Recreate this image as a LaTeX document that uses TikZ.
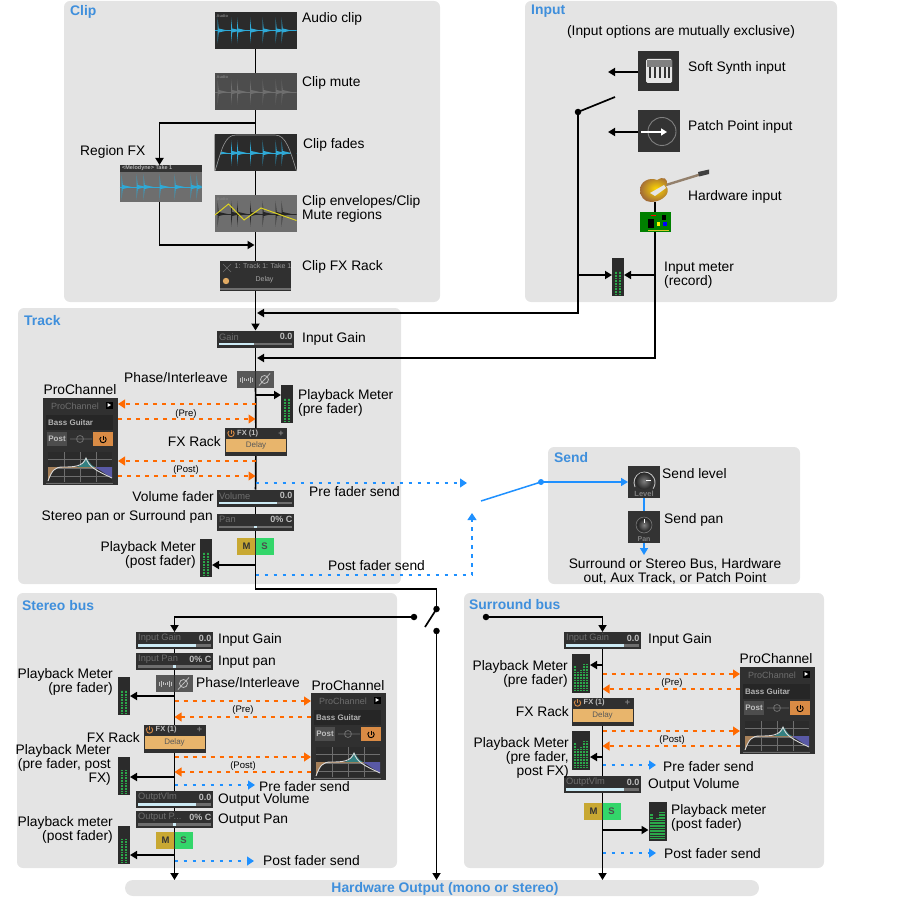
\documentclass[tikz,border=0pt]{standalone}
\usepackage{fontspec}
\setmainfont{Liberation Sans}
\usetikzlibrary{positioning,arrows.meta}

\definecolor{panelgray}{HTML}{E4E4E4}
\definecolor{titleblue}{HTML}{3F8FDC}
\definecolor{sendblue}{HTML}{1E90FF}
\definecolor{sendorange}{HTML}{FF6A00}
\definecolor{wavedark}{HTML}{2B2B2B}
\definecolor{waveblue}{HTML}{2FA9D6}
\definecolor{stripdark}{HTML}{303030}
\definecolor{stripfill}{HTML}{CDEBF5}
\definecolor{stripgrey}{HTML}{6E6E6E}
\definecolor{metergreen}{HTML}{2BA84A}
\definecolor{fxtan}{HTML}{E8B56C}
\definecolor{powerorange}{HTML}{D98B45}
\definecolor{muteyellow}{HTML}{C8A832}
\definecolor{solegreen}{HTML}{33D66A}

\tikzset{
  x=1pt, y=-1pt,
  panel/.style={fill=panelgray, rounded corners=6pt},
  paneltitle/.style={font=\fontsize{13.9}{14}\selectfont\bfseries, text=titleblue, anchor=west, inner sep=0, yshift=-1.5pt},
  lbl/.style={font=\fontsize{13.8}{14}\selectfont, anchor=west, align=left, inner sep=0, yshift=-2pt},
  lblr/.style={lbl, anchor=east, align=right},
  lblc/.style={lbl, anchor=center, align=center},
  note/.style={font=\fontsize{9.5}{10}\selectfont, inner sep=0, yshift=-2pt},
  tiny/.style={font=\fontsize{#1}{#1}\selectfont\bfseries, inner sep=0},
  thin text/.style={font=\fontsize{#1}{#1}\selectfont, inner sep=0},
  widget/.style={inner sep=0, outer sep=0, minimum width=#1},
  sig/.style={line width=1.7pt, black},
  sigarrow/.style={sig, -{Triangle[length=7pt,width=8pt]}},
  orangearrow/.style={line width=1.2pt, sendorange, dash pattern=on 4pt off 5pt, -{Triangle[length=7pt,width=9pt]}},
  bluearrow/.style={line width=1.2pt, sendblue, dash pattern=on 3.5pt off 5.5pt, -{Triangle[length=7pt,width=9pt]}},
  sendline/.style={line width=1.5pt, sendblue},
  dot/.style={circle, fill=black, inner sep=0, minimum size=6.5pt},
}

% spikes of a clip: left x, middle y, colour, list of places
\newcommand{\wavespikes}[4]{
  \begin{scope}[shift={(#1,#2)}]
    \clip (0,-14) rectangle (82,14);
    \draw[#3, line width=.6] (0,0) -- (82,0);
    \foreach \sx in {#4} {
      \fill[#3] (\sx,-13) -- (\sx+1.2,-2) -- (\sx+10,0) -- (\sx+1.2,2) -- (\sx,13) -- cycle;
    }
  \end{scope}
}

% clip picture: name, x, y, background, wave colour
\newcommand{\wavebox}[5]{
  \node[widget=82, minimum height=37, fill=#4] (#1) at (#2,#3) {};
  \wavespikes{#2-41}{#3}{#5}{3,16.5,22.5,35.5,48,61,67}
  \node[tiny=4, text=gray, anchor=west] (#1t) at (#2-39,#3-14.5) {Audio};
}

% fader strip: name, x, y, label, value, bar from, bar to
\newcommand{\stripbox}[7]{
  \node[widget=77, minimum height=17, fill=stripdark] (#1) at (#2,#3) {};
  \begin{scope}[shift={(#2-38.5,#3-8.5)}]
    \node[thin text=9.3, text=stripgrey, anchor=west] (#1l) at (2,6.3) {#4};
    \node[tiny=9, text=white!75!black, anchor=east] (#1v) at (75.5,6.3) {#5};
    \fill[stripgrey] (2,12) rectangle (75,14.5);
    \fill[stripfill] (#6,12) rectangle (#7,14.5);
  \end{scope}
}

% level meter: name, x, y
\newcommand{\meterbox}[3]{
  \node[widget=12, minimum height=38, fill=wavedark] (#1) at (#2,#3) {};
  \foreach \mx in {-2.3,2.3} {
    \draw[metergreen, line width=2.2pt, dash pattern=on 1pt off .6pt] (#2+\mx,#3+18) -- (#2+\mx,#3-6);
  }
}
\newcommand{\widemeterbox}[3]{
  \node[widget=18, minimum height=39, fill=wavedark] (#1) at (#2,#3) {};
  \foreach \mx/\mh in {-6/-8,-3/-2,0/-4,3/-10,6/-10} {
    \draw[metergreen, line width=2.2pt, dash pattern=on 1pt off .6pt] (#2+\mx,#3+17) -- (#2+\mx,#3+\mh);
  }
}

% phase and mute/solo buttons: name, x, y
\newcommand{\phasebox}[3]{
  \node[widget=37, minimum height=17, fill=stripgrey!80!black] (#1) at (#2,#3) {};
  \fill[wavedark] (#2-.8,#3-8.5) rectangle (#2+.8,#3+8.5);
  \foreach \px/\ph in {-15/2,-13/3,-11/1.5,-9/1,-7/1.5,-5/3,-3/2} {
    \draw[white!75!black, line width=.7] (#2+\px,#3-\ph) -- (#2+\px,#3+\ph);
  }
  \draw[white!75!black, line width=.8] (#2+9,#3) circle (4);
  \draw[white!75!black, line width=.8] (#2+3.5,#3+6) -- (#2+14.5,#3-6);
}
\newcommand{\msbox}[3]{
  \node[widget=37, minimum height=17, fill=muteyellow] (#1) at (#2,#3) {};
  \fill[solegreen] (#2,#3-8.5) rectangle (#2+18.5,#3+8.5);
  \fill[wavedark] (#2-.8,#3-8.5) rectangle (#2+.8,#3+8.5);
  \node[tiny=9.5, text=black!80] (#1m) at (#2-9,#3) {M};
  \node[tiny=9.5, text=black!70] (#1s) at (#2+9,#3) {S};
}

% power symbol: x, y, colour
\newcommand{\powersign}[3]{
  \draw[#3, line width=.9] (#1,#2) ++(-50:3.2) arc (-50:230:3.2);
  \draw[#3, line width=.9] (#1,#2-4) -- (#1,#2);
}

% fx rack: name, x, y
\newcommand{\fxbox}[3]{
  \node[widget=62, minimum height=28, fill=stripdark] (#1) at (#2,#3) {};
  \begin{scope}[shift={(#2-31,#3-14)}]
    \fill[fxtan] (1,11) rectangle (61,24);
    \powersign{6}{5.5}{powerorange}
    \node[tiny=7.5, text=white!75!black, anchor=west] (#1h) at (12,5.5) {FX (1)};
    \node[tiny=9, text=gray] (#1p) at (56,5.5) {+};
    \node[thin text=8, text=black!65] (#1d) at (31,17.5) {Delay};
  \end{scope}
}

% prochannel module: name, x, y
\newcommand{\prochbox}[3]{
  \node[widget=75, minimum height=87, fill=stripdark] (#1) at (#2,#3) {};
  \begin{scope}[shift={(#2-37.5,#3-43.5)}]
    \node[thin text=9, text=stripgrey] (#1t) at (32,8.5) {ProChannel};
    \fill[black] (62.5,3.5) rectangle (70,10.5);
    \fill[white] (64.5,5) -- (68,7) -- (64.5,9) -- cycle;
    \fill[black!85] (3,17) rectangle (70,32);
    \node[tiny=8, text=white!70!black, anchor=west] (#1b) at (5,24.5) {Bass Guitar};
    \fill[stripgrey!70!black] (4,34) rectangle (24,48);
    \node[tiny=8, text=white!75!black] (#1o) at (14,41) {Post};
    \draw[stripgrey, line width=.8] (27,41) -- (49,41) (37,41) circle (3.5);
    \fill[powerorange] (50,34) rectangle (70,48);
    \powersign{60}{41.5}{black}
    \fill[wavedark] (5,54) rectangle (69,84);
    \draw[stripgrey, line width=.4] (5,61) -- (69,61) (5,70) -- (69,70) (5,78) -- (69,78)
      (21,54) -- (21,84) (37,54) -- (37,84) (53,54) -- (53,84);
    \fill[brown!60!gray] (5,68.5) rectangle (69,70);
    \fill[brown!60!gray] (5,69) -- (20,69) .. controls (12,69) and (9,72) .. (5,83) -- cycle;
    \fill[teal!60!gray] (34,69) .. controls (40,68) and (41,60) .. (43,60) .. controls (45,60) and (47,68) .. (52,69) -- cycle;
    \fill[blue!30!gray] (52,69) -- (69,69) -- (69,80) -- cycle;
    \draw[white!85!black, line width=.9] (5,83) .. controls (9,72) and (12,69) .. (20,69)
      .. controls (30,69) and (40,69) .. (43,60) .. controls (46,69) and (52,72) .. (69,80);
    \draw[stripgrey] (3,85.5) -- (70,85.5);
  \end{scope}
}

\begin{document}
\begin{tikzpicture}

\useasboundingbox (0,0) rectangle (907,901);

% panels
\fill[panel] (64,1) rectangle (440,302);
\fill[panel] (525,1) rectangle (837,302);
\fill[panel] (18,308) rectangle (401,584);
\fill[panel] (548,447) rectangle (800,584);
\fill[panel] (17,593) rectangle (397,868);
\fill[panel] (464,593) rectangle (824,868);
\fill[panel, rounded corners=8pt] (125,880) rectangle (759,896);
\node[paneltitle] (tClip) at (70,10) {Clip};
\node[paneltitle] (tInput) at (531,10) {Input};
\node[paneltitle] (tTrack) at (24,319) {Track};
\node[paneltitle] (tSend) at (554,456) {Send};
\node[paneltitle] (tStereo) at (22,604) {Stereo bus};
\node[paneltitle] (tSurround) at (469,603) {Surround bus};
\node[paneltitle, anchor=center, yshift=1pt] (tHardware) at (445,888) {Hardware Output (mono or stereo)};

% clip
\wavebox{audio}{255.5}{30.5}{wavedark}{waveblue}
\wavebox{mute}{255.5}{92}{stripgrey!70!black}{stripgrey}
\wavebox{fades}{255.5}{153}{wavedark}{waveblue}
\fill[wavedark] (214.5,134.5) -- (236,134.5) .. controls (225,135) and (222,148) .. (215,171) -- (214.5,171) -- cycle;
\fill[wavedark] (296.5,134.5) -- (275,134.5) .. controls (286,135) and (290,150) .. (296.5,171) -- cycle;
\draw[white!60!black, line width=.6] (215,171) .. controls (222,148) and (225,135) .. (236,135)
  -- (275,135) .. controls (286,135) and (290,150) .. (296.5,171);
\wavebox{envs}{255.5}{214}{stripgrey}{black!85}
\draw[yellow!85!black, line width=1] (215,215) -- (228.5,204) -- (244,220) -- (261,208) -- (296.5,220.5);
\node[widget=82, minimum height=37, fill=stripgrey] (region) at (160.5,183.5) {};
\wavespikes{119.5}{187}{waveblue}{2,17,24,40,55,71,77}
\fill[black!80] (119.5,165) rectangle (201.5,172);
\node[tiny=5.5, text=white!70!black, anchor=west] (regionh) at (122,168.5) {<Melodyne> Take 1};
\node[widget=71, minimum height=30, fill=stripdark] (clipfx) at (255.5,276) {};
\draw[stripgrey, line width=.7] (223,264) -- (231,272) (231,264) -- (223,272);
\fill[fxtan!80!brown] (226,281) circle (3.2);
\node[tiny=7, text=white!60!black, font=\fontsize{7}{7}\selectfont] (clipfxt) at (263,266) {1: Track 1: Take 1};
\node[thin text=7, text=white!65!black] (clipfxd) at (264.5,280) {Delay};
\fill[stripgrey] (220,288) rectangle (291,289.5);
\node[lbl] (lAudio) at (302,17) {Audio clip};
\node[lbl] (lMute) at (302,81) {Clip mute};
\node[lbl] (lFades) at (303,143) {Clip fades};
\node[lbl] (lEnvs) at (302,207) {Clip envelopes/Clip\\Mute regions};
\node[lbl] (lClipFx) at (302,265) {Clip FX Rack};
\node[lbl] (lRegion) at (80,150) {Region FX};
\coordinate (regOut) at (255.5,123);
\coordinate (regTurn) at (159.5,123);
\coordinate (regIn) at (159.5,245);
\coordinate (regBack) at (254.5,245);
\draw[sig] (audio) -- (mute);
\draw[sig] (mute) -- (fades);
\draw[sig] (fades) -- (envs);
\draw[sig] (envs) -- (clipfx);
\draw[sigarrow] (regOut) -- (regTurn) -- (regTurn |- region.north);
\draw[sigarrow] (region.south -| regIn) -- (regIn) -- (regBack);

% input
\node[lblc] (lExcl) at (681,30) {(Input options are mutually exclusive)};
\node[widget=41, minimum height=40, fill=stripdark] (synth) at (658.5,71) {};
\fill[white!90!black, rounded corners=1.5pt] (646,59) rectangle (672,83);
\fill[gray] (646.5,60) rectangle (671.5,67);
\foreach \kx in {650,655,660,665,669} {\fill[black!80] (\kx-.9,67) rectangle (\kx+.9,78);}
\node[widget=42, minimum height=42, fill=black!80] (patch) at (659,131) {};
\draw[gray, line width=.9] (662,131.5) circle (14);
\draw[white, line width=2.5pt, -{Triangle[length=6pt,width=7pt]}] (641,132) -- (667,132);
\node[lbl] (lSynth) at (688,66) {Soft Synth input};
\node[lbl] (lPatch) at (688,125) {Patch Point input};
\node[lbl] (lHw) at (688,195) {Hardware input};
\node[lbl] (lInMeter) at (664,273) {Input meter\\(record)};
\coordinate (synthTip) at (608,72);
\coordinate (patchTip) at (608,132);
\draw[sigarrow] (synth.west |- synthTip) -- (synthTip);
\draw[sigarrow] (patch.west |- patchTip) -- (patchTip);
\node[dot] (inDot) at (578,112) {};
\coordinate (inBlade) at (615,97);
\draw[sig] (inDot.center) -- (inBlade);
% guitar and audio card
\coordinate (gtrOut) at (655,202);
\draw[sig] (gtrOut) -- (655,213);
\draw[line width=2.4pt, gray!70!brown] (666,185) -- (700,174.5);
\fill[black!75] (698,172) -- (709,169.5) -- (709,174) -- (699,176.5) -- cycle;
\shade[inner color=yellow!70!orange, outer color=brown!85!black]
  (640,190) .. controls (640,181) and (650,177) .. (657,180) .. controls (662,176) and (670,178) .. (666,186)
  .. controls (672,193) and (662,202) .. (651,202) .. controls (644,202) and (640,196) .. (640,190) -- cycle;
\fill[white!90!black] (650,193) -- (664,185) -- (666,188) -- (655,196) -- cycle;
\node[widget=31, minimum height=20, fill=green!50!black] (card) at (655.5,222.5) {};
\fill[black] (648,219) rectangle (654,228);
\fill[black] (662,215) rectangle (666,220);
\fill[blue] (663,222) rectangle (667,226);
\fill[yellow] (657,222) rectangle (660,226);
\fill[red] (651,215) rectangle (656,216.5);
\draw[yellow!80!black, line width=1.3pt] (648,230.5) -- (669,230.5);
\meterbox{inmeter}{618}{277}
\coordinate (hwMeter) at (655,275);
\coordinate (swMeter) at (578,275);
\coordinate (hwTurn) at (655,358);
\coordinate (swTurn) at (578,313);
\coordinate (trkGainIn) at (257,313);
\coordinate (trkPostGain) at (257,358);
\draw[sigarrow] (swMeter) -- (swMeter -| inmeter.west);
\draw[sigarrow] (hwMeter) -- (hwMeter -| inmeter.east);
\draw[sigarrow] (inDot.center) -- (swTurn) -- (trkGainIn);
\draw[sigarrow] (card.south -| hwTurn) -- (hwTurn) -- (trkPostGain);

% track
\stripbox{gain}{255.5}{339}{Gain}{0.0}{2}{37}
\phasebox{phase}{255.5}{379.5}
\meterbox{trkpre}{287}{404}
\prochbox{pch}{80.5}{441.5}
\fxbox{fx}{256}{442}
\stripbox{vol}{255.5}{498}{Volume}{0.0}{2}{60}
\stripbox{pan}{255.5}{522}{Pan}{0\% C}{37}{40}
\msbox{ms}{255.5}{546.5}
\meterbox{trkpost}{206}{558}
\node[lbl] (lGain) at (302,337) {Input Gain};
\node[lblr] (lPhase) at (228,376) {Phase/Interleave};
\node[lbl] (lTrkPre) at (298,401) {Playback Meter\\(pre fader)};
\node[lblc] (lPch) at (80,388) {ProChannel};
\node[note] (lPre) at (186,412) {(Pre)};
\node[lblr] (lFx) at (221,440) {FX Rack};
\node[note] (lPost) at (186,468) {(Post)};
\node[lblr] (lVol) at (214,495) {Volume fader};
\node[lblr] (lPan) at (213,515) {Stereo pan or Surround pan};
\node[lblr] (lTrkPost) at (196,553) {Playback Meter\\(post fader)};
\node[lbl] (lPreSend) at (309,490) {Pre fader send};
\node[lbl] (lPostSend) at (328,564) {Post fader send};
\coordinate (trkMeter) at (255.5,395);
\coordinate (trkA) at (255.5,404);
\coordinate (trkB) at (255.5,419);
\coordinate (trkC) at (255.5,461);
\coordinate (trkD) at (255.5,476);
\coordinate (trkSend) at (255.5,483);
\coordinate (trkMeterPost) at (255.5,565);
\coordinate (trkSendPost) at (255.5,575);
\coordinate (trkOut) at (255.5,589);
\draw[sigarrow] (clipfx) -- (gain);
\draw[sig] (gain) -- (phase);
\draw[sig] (phase) -- (fx);
\draw[sig] (fx) -- (vol);
\draw[sig] (vol) -- (pan);
\draw[sig] (pan) -- (ms);
\draw[sigarrow] (trkMeter) -- (trkMeter -| trkpre.west);
\draw[sigarrow] (trkMeterPost) -- (trkMeterPost -| trkpost.east);
\draw[orangearrow] (trkA) -- (trkA -| pch.east);
\draw[orangearrow] (trkB -| pch.east) -- (trkB);
\draw[orangearrow] (trkC) -- (trkC -| pch.east);
\draw[orangearrow] (trkD -| pch.east) -- (trkD);
\coordinate (sendPreTip) at (467,483);
\coordinate (sendPostTurn) at (472,575);
\coordinate (sendPostTip) at (472,513);
\draw[bluearrow] (trkSend) -- (sendPreTip);
\draw[bluearrow] (trkSendPost) -- (sendPostTurn) -- (sendPostTip);

% send
\node[widget=32, minimum height=32, fill=black!80] (level) at (644,482) {};
\draw[white!75!black, line width=.9] (635,487) arc (155:395:10.5);
\shade[inner color=gray, outer color=black!85] (644,481) circle (8.5);
\draw[white, line width=1] (646,480) -- (651,480);
\node[tiny=7.5, text=gray] (levelt) at (644,494) {Level};
\node[widget=32, minimum height=32, fill=black!80] (spanbox) at (644,527) {};
\shade[inner color=gray, outer color=black!85] (644,525) circle (6.5);
\draw[white, line width=1] (644,519) -- (644,523);
\draw[gray, line width=.5] (644,525) circle (8);
\node[tiny=7, text=gray] (spant) at (644,539) {Pan};
\node[lbl] (lLevel) at (662,472) {Send level};
\node[lbl] (lSpan) at (664,518) {Send pan};
\node[lblc] (lSendOut) at (675,569) {Surround or Stereo Bus, Hardware\\out, Aux Track, or Patch Point};
\node[dot, fill=sendblue, minimum size=6pt] (sendDot) at (541,482) {};
\coordinate (sendBlade) at (481,501);
\coordinate (sendTip) at (644,555);
\draw[sendline] (sendBlade) -- (sendDot.center);
\draw[sendline, -{Triangle[length=7pt,width=8pt]}] (sendDot.center) -- (level.west);
\draw[sendline] (level) -- (spanbox);
\draw[sendline, -{Triangle[length=7pt,width=8pt]}] (spanbox) -- (sendTip);

% routing to the buses
\node[dot] (busTop) at (436.5,609) {};
\node[dot] (busDown) at (436.5,631) {};
\node[dot] (busSt) at (414,617) {};
\node[dot] (busSu) at (486,617) {};
\coordinate (trkTurn) at (436.5,589);
\coordinate (busBlade) at (425,627);
\coordinate (hwTip) at (436.5,880);
\draw[sig] (ms) -- (trkOut) -- (trkTurn) -- (busTop.center);
\draw[sig] (busTop.center) -- (busBlade);
\draw[sigarrow] (busDown.center) -- (hwTip);

% stereo bus
\stripbox{sgain}{174.5}{640.5}{Input Gain}{0.0}{2}{60}
\stripbox{span}{174.5}{661.5}{Input Pan}{0\% C}{37}{40}
\phasebox{sphase}{174.5}{683.5}
\meterbox{smeterA}{124}{696}
\prochbox{spch}{348.5}{736.5}
\fxbox{sfx}{174.5}{738.5}
\meterbox{smeterB}{124}{775.5}
\stripbox{svol}{174.5}{799.5}{OutptVlm}{0.0}{2}{60}
\stripbox{sopan}{174.5}{819.5}{Output P...}{0\% C}{37}{40}
\msbox{sms}{174.5}{840.5}
\meterbox{smeterC}{124}{844.5}
\node[lbl] (lsGain) at (218,638) {Input Gain};
\node[lbl] (lsPan) at (218,660) {Input pan};
\node[lbl] (lsPhase) at (196,681) {Phase/Interleave};
\node[lblr] (lsPre) at (113,680) {Playback Meter\\(pre fader)};
\node[lblc] (lsPch) at (348,684) {ProChannel};
\node[note] (lsNotePre) at (243,708) {(Pre)};
\node[lblr] (lsFx) at (140,736) {FX Rack};
\node[note] (lsNotePost) at (243,764) {(Post)};
\node[lblr] (lsPostFx) at (111,763) {Playback Meter\\(pre fader, post\\FX)};
\node[lbl] (lsPreSend) at (259,784.5) {Pre fader send};
\node[lbl] (lsVol) at (218,798) {Output Volume};
\node[lbl] (lsOPan) at (218,818) {Output Pan};
\node[lblr] (lsPost) at (113,828) {Playback meter\\(post fader)};
\node[lbl] (lsPostSend) at (263,859) {Post fader send};
\coordinate (sIn) at (174.5,617);
\coordinate (sA) at (174.5,701);
\coordinate (sB) at (174.5,717);
\coordinate (sC) at (174.5,757);
\coordinate (sD) at (174.5,772);
\coordinate (sM1) at (174.5,696);
\coordinate (sM2) at (174.5,777);
\coordinate (sM3) at (174.5,855);
\coordinate (sS1) at (174.5,785);
\coordinate (sS2) at (174.5,861);
\coordinate (sS1Tip) at (255,785);
\coordinate (sS2Tip) at (254,861);
\coordinate (sOut) at (174.5,880);
\draw[sigarrow] (busSt.center) -- (sIn) -- (sgain.north);
\draw[sig] (sgain) -- (span);
\draw[sig] (span) -- (sphase);
\draw[sig] (sphase) -- (sfx);
\draw[sig] (sfx) -- (svol);
\draw[sig] (svol) -- (sopan);
\draw[sig] (sopan) -- (sms);
\draw[sigarrow] (sms) -- (sOut);
\draw[sigarrow] (sM1) -- (sM1 -| smeterA.east);
\draw[sigarrow] (sM2) -- (sM2 -| smeterB.east);
\draw[sigarrow] (sM3) -- (sM3 -| smeterC.east);
\draw[orangearrow] (sA) -- (sA -| spch.west);
\draw[orangearrow] (sB -| spch.west) -- (sB);
\draw[orangearrow] (sC) -- (sC -| spch.west);
\draw[orangearrow] (sD -| spch.west) -- (sD);
\draw[bluearrow] (sS1) -- (sS1Tip);
\draw[bluearrow] (sS2) -- (sS2Tip);

% surround bus
\stripbox{ugain}{602.5}{640.5}{Input Gain}{0.0}{2}{60}
\widemeterbox{umeterA}{581}{673.5}
\prochbox{upch}{777.5}{710.5}
\fxbox{ufx}{602.5}{711.5}
\widemeterbox{umeterB}{581}{750.5}
\stripbox{uvol}{602.5}{784.5}{OutptVlm}{0.0}{2}{60}
\msbox{ums}{602.5}{811.5}
\widemeterbox{umeterC}{657.5}{821.5}
\node[lbl] (luGain) at (648,638) {Input Gain};
\node[lblr] (luPre) at (568,672) {Playback Meter\\(pre fader)};
\node[lblc] (luPch) at (776,657) {ProChannel};
\node[note] (luNotePre) at (672,681) {(Pre)};
\node[lblr] (luFx) at (569,710) {FX Rack};
\node[note] (luNotePost) at (672,738) {(Post)};
\node[lblr] (luPostFx) at (569,756) {Playback Meter\\(pre fader,\\post FX)};
\node[lbl] (luPreSend) at (663,765) {Pre fader send};
\node[lbl] (luVol) at (648,783) {Output Volume};
\node[lbl] (luPost) at (671,816) {Playback meter\\(post fader)};
\node[lbl] (luPostSend) at (664,852) {Post fader send};
\coordinate (uIn) at (602.5,617);
\coordinate (uA) at (602.5,674);
\coordinate (uB) at (602.5,689);
\coordinate (uC) at (602.5,731);
\coordinate (uD) at (602.5,746);
\coordinate (uM1) at (602.5,665);
\coordinate (uM2) at (602.5,757);
\coordinate (uM3) at (602.5,830);
\coordinate (uS1) at (602.5,765);
\coordinate (uS2) at (602.5,853);
\coordinate (uS1Tip) at (656,765);
\coordinate (uS2Tip) at (656,853);
\coordinate (uOut) at (602.5,880);
\draw[sigarrow] (busSu.center) -- (uIn) -- (ugain.north);
\draw[sig] (ugain) -- (ufx);
\draw[sig] (ufx) -- (uvol);
\draw[sig] (uvol) -- (ums);
\draw[sigarrow] (ums) -- (uOut);
\draw[sigarrow] (uM1) -- (uM1 -| umeterA.east);
\draw[sigarrow] (uM2) -- (uM2 -| umeterB.east);
\draw[sigarrow] (uM3) -- (uM3 -| umeterC.west);
\draw[orangearrow] (uA) -- (uA -| upch.west);
\draw[orangearrow] (uB -| upch.west) -- (uB);
\draw[orangearrow] (uC) -- (uC -| upch.west);
\draw[orangearrow] (uD -| upch.west) -- (uD);
\draw[bluearrow] (uS1) -- (uS1Tip);
\draw[bluearrow] (uS2) -- (uS2Tip);

\end{tikzpicture}
\end{document}
